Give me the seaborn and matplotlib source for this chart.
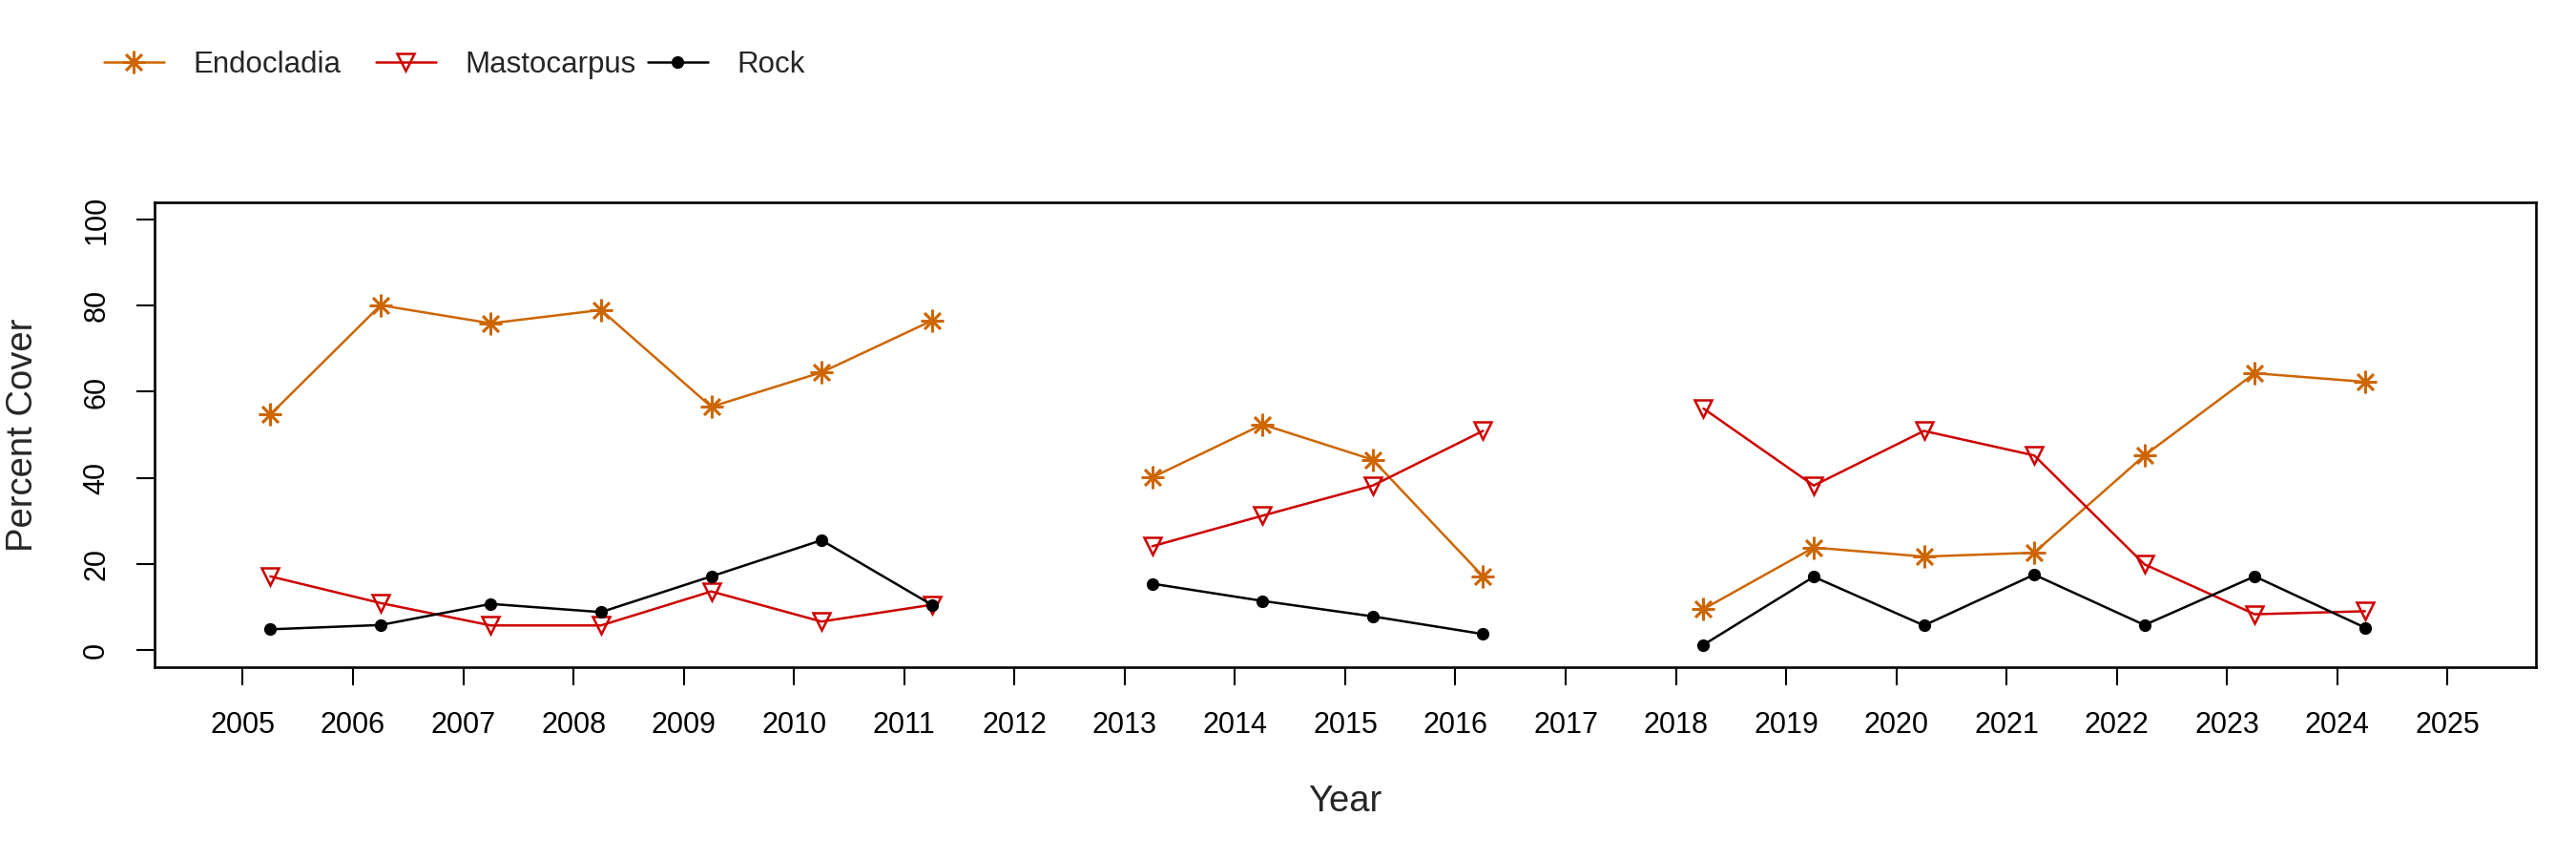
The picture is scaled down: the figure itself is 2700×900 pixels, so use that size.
import numpy as np
import pandas as pd
import matplotlib
matplotlib.use("Agg")
import matplotlib.pyplot as plt
from matplotlib.lines import Line2D
import seaborn as sns

# percent cover per survey year (no survey in 2012 and 2017)
years = list(range(2005, 2025))
endocladia = [54.7, 80.1, 75.9, 79.0, 56.5, 64.5, 76.5, np.nan, 40.1, 52.4,
              44.2, 17.1, np.nan, 9.5, 23.8, 21.7, 22.6, 45.2, 64.3, 62.3]
mastocarpus = [17.1, 10.9, 5.7, 5.7, 13.6, 6.6, 10.5, np.nan, 24.1, 31.2,
               38.2, 50.9, np.nan, 56.1, 38.2, 50.9, 45.2, 19.9, 8.3, 9.0]
rock = [4.8, 5.8, 10.7, 8.8, 17.1, 25.5, 10.5, np.nan, 15.4, 11.4,
        7.8, 3.7, np.nan, 1.2, 17.0, 5.7, 17.5, 5.8, 17.1, 5.2]
survey_offset = 0.25  # surveys fall a quarter into the year
taxa = ["Endocladia", "Mastocarpus", "Rock"]
tick_years = list(range(2005, 2026))
y_ticks = [0, 20, 40, 60, 80, 100]

df = pd.DataFrame({"Year": years, "Endocladia": endocladia,
                   "Mastocarpus": mastocarpus, "Rock": rock})
df["Time"] = df["Year"] + survey_offset
df["Block"] = df["Endocladia"].isna().cumsum()
long = df.melt(id_vars=["Year", "Time", "Block"], value_vars=taxa,
               var_name="Taxon", value_name="Cover").dropna()

styles = {
    "Endocladia": dict(color="#CD6600", marker=(8, 2, 0), markersize=17,
                       markerfacecolor="#CD6600", markeredgecolor="#CD6600",
                       markeredgewidth=1.9),
    "Mastocarpus": dict(color="#CD0000", marker="v", markersize=13,
                        markerfacecolor="none", markeredgecolor="#CD0000",
                        markeredgewidth=1.8),
    "Rock": dict(color="black", marker="o", markersize=8.5,
                 markerfacecolor="black", markeredgecolor="black",
                 markeredgewidth=1),
}

sns.set_style("ticks")
plt.rcParams["font.family"] = ["Liberation Sans", "DejaVu Sans"]

fig, ax = plt.subplots(figsize=(27, 9), dpi=100)
fig.subplots_adjust(left=0.06, right=0.9844, top=0.7644, bottom=0.2233)

for t in taxa:
    sns.lineplot(data=long[long["Taxon"] == t], x="Time", y="Cover",
                 units="Block", estimator=None, linewidth=1.8, legend=False,
                 ax=ax, **styles[t])

ax.set_xlim(2004.2, 2025.8)
ax.set_ylim(-4, 104)
ax.set_xticks(tick_years)
ax.set_xticklabels([str(y) for y in tick_years])
ax.set_yticks(y_ticks)
ax.set_yticklabels([str(v) for v in y_ticks], rotation=90, va="center")
ax.tick_params(axis="both", length=14, width=1.5, labelsize=22, pad=19,
               color="black", labelcolor="black")
ax.set_xlabel("Year", fontsize=27.5, labelpad=34)
ax.set_ylabel("Percent Cover", fontsize=27.5, labelpad=32)
for s in ax.spines.values():
    s.set_visible(True)
    s.set_linewidth(1.9)
    s.set_color("black")

# legend across the top, equal column widths
col_start = 109 / 2700
col_width = 285 / 2700
for i, t in enumerate(taxa):
    h = Line2D([], [], linewidth=1.8, **styles[t])
    fig.legend(handles=[h], labels=[t], loc="center left",
               bbox_to_anchor=(col_start + i * col_width, 0.924),
               frameon=False, fontsize=22.5, handlelength=2.0,
               handletextpad=1.0, borderpad=0, borderaxespad=0)

plt.savefig("out.png", dpi=100)
